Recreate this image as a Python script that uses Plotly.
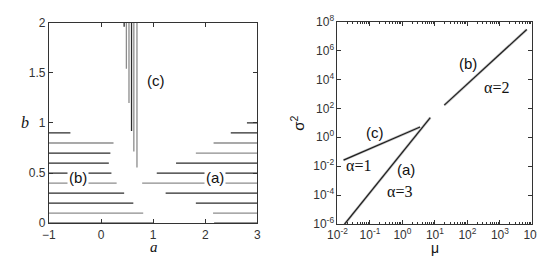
import plotly.graph_objects as go

# ---------------- Left panel data (a-b plane) ----------------
left_b   = [0.0, 0.1, 0.2, 0.3, 0.4, 0.5, 0.6, 0.7, 0.8, 0.9]
left_end = [1.00, 0.81, 0.62, 0.444, 0.30, 0.20, 0.15, 0.18, 0.24, -0.587]
left_col = ["d", "g", "d", "d", "g", "d", "d", "d", "g", "d"]

right_b     = [0.0, 0.1, 0.2, 0.3, 0.4, 0.5, 0.6, 0.7, 0.8, 0.9, 1.0]
right_start = [2.17, 2.15, 1.82, 1.24, 0.79, 1.07, 1.44, 1.82, 2.16, 2.49, 2.80]
right_col   = ["d", "g", "d", "d", "g", "d", "d", "g", "g", "d", "d"]

vert_a   = [0.444, 0.487, 0.537, 0.586, 0.630, 0.690]
vert_low = [1.96, 1.54, 1.20, 0.92, 0.715, 0.555]
vert_col = ["d", "g", "g", "d", "g", "g"]

a_min, a_max = -1, 3
b_top = 2

# ---------------- Right panel data (mu - sigma^2) ----------------
mu_a = [0.0165, 7.2]
s2_a = [9.5e-7, 23.0]
mu_b = [19.4, 6700.0]
s2_b = [166.0, 2.9e7]
mu_c = [0.0154, 3.5]
s2_c = [0.026, 5.1]

x_tick_exp = [-2, -1, 0, 1, 2, 3, 4]
y_tick_exp = [-6, -4, -2, 0, 2, 4, 6, 8]

DARK = "#2b2b2b"
GRAY = "#8c8c8c"
AX = "#333333"

fig = go.Figure()

def add_segments(xs_list, ys_list, cols, key, color):
    X, Y = [], []
    for xs, ys, c in zip(xs_list, ys_list, cols):
        if c == key:
            X += list(xs) + [None]
            Y += list(ys) + [None]
    fig.add_trace(go.Scatter(x=X, y=Y, mode="lines", line=dict(color=color, width=1.3),
                             xaxis="x", yaxis="y", showlegend=False, hoverinfo="skip"))

seg_x, seg_y, seg_c = [], [], []
for b, e, c in zip(left_b, left_end, left_col):
    seg_x.append([a_min, e]); seg_y.append([b, b]); seg_c.append(c)
for b, s, c in zip(right_b, right_start, right_col):
    seg_x.append([s, a_max]); seg_y.append([b, b]); seg_c.append(c)
for a, lo, c in zip(vert_a, vert_low, vert_col):
    seg_x.append([a, a]); seg_y.append([lo, b_top]); seg_c.append(c)

add_segments(seg_x, seg_y, seg_c, "g", GRAY)
add_segments(seg_x, seg_y, seg_c, "d", DARK)

# right panel lines: gray halo + dark core
for mu, s2 in [(mu_a, s2_a), (mu_b, s2_b), (mu_c, s2_c)]:
    fig.add_trace(go.Scatter(x=mu, y=s2, mode="lines", line=dict(color="#c4c4c4", width=2.6),
                             xaxis="x2", yaxis="y2", showlegend=False, hoverinfo="skip"))
    fig.add_trace(go.Scatter(x=mu, y=s2, mode="lines", line=dict(color="#1e1e1e", width=1.2),
                             xaxis="x2", yaxis="y2", showlegend=False, hoverinfo="skip"))

tickfont = dict(family="Liberation Sans, Arial, sans-serif", size=12, color=AX)

common = dict(showline=True, mirror="ticks", linecolor=AX, linewidth=1, ticks="inside",
              ticklen=4, tickcolor=AX, showgrid=False, zeroline=False, tickfont=tickfont,
              ticklabeloverflow="allow")

minor_x = [m * 10 ** e for e in range(-2, 4) for m in range(2, 10)]

fig.update_layout(
    width=545, height=256,
    margin=dict(l=0, r=0, t=0, b=0),
    paper_bgcolor="white", plot_bgcolor="white",
    xaxis=dict(domain=[32 / 545, 248 / 545], range=[a_min, a_max], tickvals=[-1, 0, 1, 2, 3],
               anchor="y", **common),
    yaxis=dict(domain=[1 - 220 / 256, 1 - 6 / 256], range=[0, b_top],
               tickvals=[0, 0.5, 1, 1.5, 2], ticktext=["0", "0.5", "1", "1.5", "2"],
               anchor="x", **common),
    xaxis2=dict(domain=[331 / 545, 533 / 545], type="log", range=[-2, 4],
                tickvals=[10 ** e for e in x_tick_exp],
                ticktext=["10<sup>%d</sup>" % e for e in x_tick_exp],
                minor=dict(tickvals=minor_x, ticks="inside", ticklen=2, tickcolor=AX),
                anchor="y2", **common),
    yaxis2=dict(domain=[1 - 220.7 / 256, 1 - 5 / 256], type="log", range=[-6, 8],
                tickvals=[10 ** e for e in y_tick_exp],
                ticktext=["10<sup>%d</sup>" % e for e in y_tick_exp],
                anchor="x2", **common),
)

lab = dict(family="Liberation Sans, Arial, sans-serif", size=15, color="#111")
serif = dict(family="Liberation Serif, Times New Roman, serif", size=16, color="#111")

ann = [
    dict(x=1.06, y=1.42, xref="x", yref="y", text="(c)", font=lab, showarrow=False),
    dict(x=-0.45, y=0.46, xref="x", yref="y", text="(b)", font=lab, showarrow=False,
         bgcolor="white"),
    dict(x=2.19, y=0.46, xref="x", yref="y", text="(a)", font=lab, showarrow=False,
         bgcolor="white"),
    dict(x=-0.842, y=0.36, xref="x2", yref="y2", text="(c)", font=lab, showarrow=False),
    dict(x=-1.347, y=-1.93, xref="x2", yref="y2", text="α=1", font=serif, showarrow=False),
    dict(x=0.10, y=-2.25, xref="x2", yref="y2", text="(a)", font=lab, showarrow=False),
    dict(x=-0.10, y=-3.75, xref="x2", yref="y2", text="α=3", font=serif, showarrow=False),
    dict(x=2.03, y=5.08, xref="x2", yref="y2", text="(b)", font=lab, showarrow=False),
    dict(x=2.90, y=3.46, xref="x2", yref="y2", text="α=2", font=serif, showarrow=False),
]
titles = [
    dict(x=141, y=245, text="<i>a</i>", font=dict(family="Liberation Serif, serif", size=15, color="#111")),
    dict(x=7, y=112, text="<i>b</i>", font=dict(family="Liberation Serif, serif", size=16, color="#111")),
    dict(x=432, y=246, text="μ", font=dict(family="Liberation Sans, sans-serif", size=14, color="#111")),
    dict(x=290, y=113, text="σ<sup>2</sup>", textangle=-90,
         font=dict(family="Liberation Sans, sans-serif", size=15, color="#111")),
]
for t in titles:
    t.update(x=t["x"] / 545, y=1 - t["y"] / 256, xref="paper", yref="paper",
             xanchor="center", yanchor="middle", showarrow=False)
    ann.append(t)
fig.update_layout(annotations=ann)

fig.write_html("out.html")
